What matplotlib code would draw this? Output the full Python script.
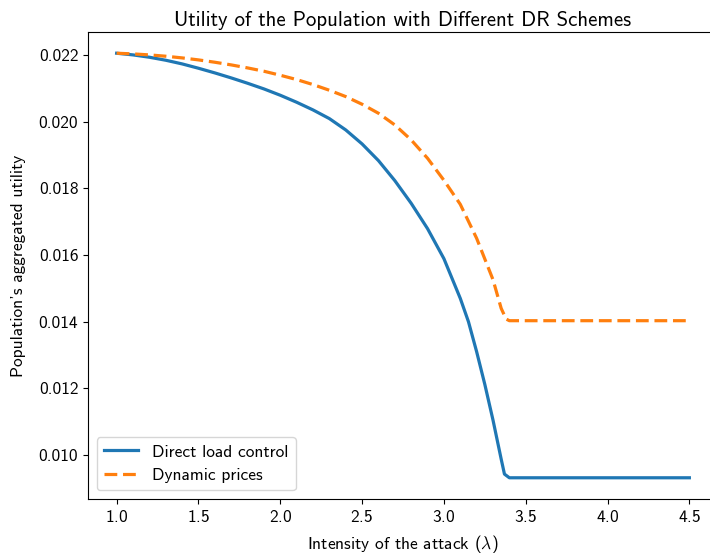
import numpy as np
import matplotlib
matplotlib.use('Agg')
import matplotlib.pyplot as plt

plt.rcParams['font.family'] = ['cmss10', 'DejaVu Sans']
plt.rcParams['mathtext.fontset'] = 'cm'
plt.rcParams['axes.formatter.use_mathtext'] = True
plt.rcParams['axes.unicode_minus'] = False

# attack intensity (lambda)
lam_direct = [1.0, 1.1, 1.2, 1.3, 1.4, 1.5, 1.6, 1.7, 1.8, 1.9, 2.0, 2.1, 2.2, 2.3, 2.4,
              2.5, 2.6, 2.7, 2.8, 2.9, 3.0, 3.1, 3.15, 3.2, 3.25, 3.3, 3.35, 3.37, 3.4,
              3.5, 3.75, 4.0, 4.25, 4.5]
util_direct = [0.02205, 0.02200, 0.02193, 0.02184, 0.02173, 0.02160, 0.02146, 0.02131,
               0.02115, 0.02098, 0.02079, 0.02058, 0.02035, 0.02009, 0.01975, 0.01933,
               0.01883, 0.01823, 0.01755, 0.01679, 0.01589, 0.01470, 0.01400, 0.01310,
               0.01212, 0.01105, 0.00988, 0.00943, 0.00932, 0.00932, 0.00932, 0.00932,
               0.00932, 0.00932]

lam_prices = [1.0, 1.1, 1.2, 1.3, 1.4, 1.5, 1.6, 1.7, 1.8, 1.9, 2.0, 2.1, 2.2, 2.3, 2.4,
              2.5, 2.6, 2.7, 2.8, 2.9, 3.0, 3.1, 3.2, 3.3, 3.35, 3.38, 3.4,
              3.5, 3.75, 4.0, 4.25, 4.5]
util_prices = [0.02205, 0.02203, 0.02200, 0.02196, 0.02191, 0.02185, 0.02178, 0.02170,
               0.02161, 0.02151, 0.02139, 0.02126, 0.02111, 0.02094, 0.02075, 0.02052,
               0.02025, 0.01990, 0.01945, 0.01890, 0.01824, 0.01752, 0.01650, 0.01526,
               0.01440, 0.01408, 0.01403, 0.01403, 0.01403, 0.01403, 0.01403, 0.01403]


def main():
    fig = plt.figure(figsize=(7.1, 5.57), dpi=100)
    ax = fig.add_axes([88/710, 58/557, (718-88)/710, (499-32)/557])

    ax.plot(lam_direct, util_direct, linewidth=2.3, color='#1f77b4', label='Direct load control')
    ax.plot(lam_prices, util_prices, linewidth=2.3, color='#ff7f0e', label='Dynamic prices',
            linestyle=(0, (4.0, 1.8)))

    ax.set_xticks([1.0, 1.5, 2.0, 2.5, 3.0, 3.5, 4.0, 4.5])
    ax.set_yticks([0.010, 0.012, 0.014, 0.016, 0.018, 0.020, 0.022])
    ax.set_yticklabels(['0.010', '0.012', '0.014', '0.016', '0.018', '0.020', '0.022'])
    ax.tick_params(labelsize=12.5)

    ax.set_title('Utility of the Population with Different DR Schemes', fontsize=15, pad=4)
    ax.set_xlabel(r'Intensity of the attack ($\lambda$)', fontsize=12.5, labelpad=6)
    ax.set_ylabel("Population's aggregated utility", fontsize=12.5, labelpad=9)
    ax.legend(loc='lower left', fontsize=12.5)

    fig.savefig('out.png', dpi=100)


if __name__ == '__main__':
    main()
